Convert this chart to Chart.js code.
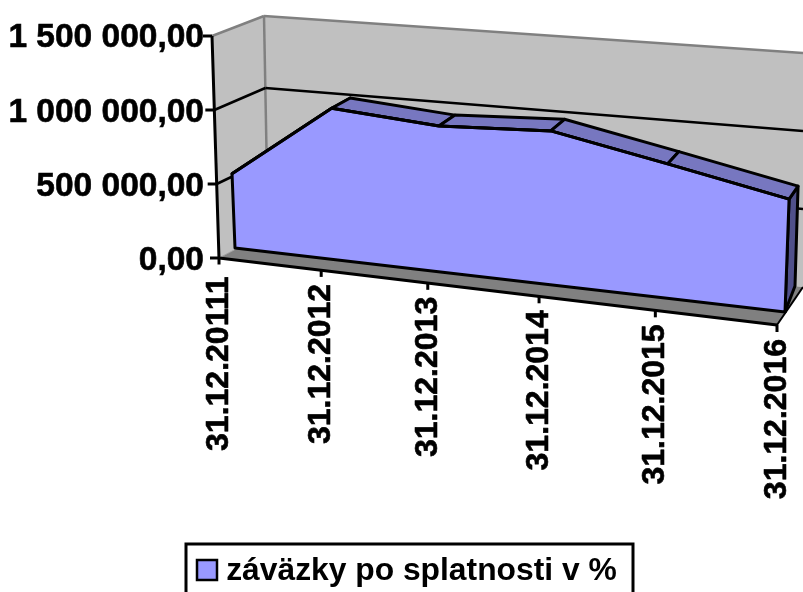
<!DOCTYPE html>
<html>
<head>
<meta charset="utf-8">
<script src="https://cdn.jsdelivr.net/npm/chart.js@4"></script>
<style>
body { margin: 0; background: #fff; }
canvas { display: block; }
</style>
</head>
<body>
<canvas id="chart" width="803" height="592"></canvas>
<script>
// values
const categories = ["31.12.20111", "31.12.2012", "31.12.2013", "31.12.2014", "31.12.2015", "31.12.2016"];
const seriesName = "záväzky po splatnosti v %";
const seriesValues = [505000, 1000000, 945000, 975000, 835000, 690000];
const baseValue = 0;

const fontFamily = '"Liberation Sans", Arial, sans-serif';
const frontColor = "#9999FF";
const topColor = "#7777C0";
const sideColor = "#50508A";
const wallColor = "#C0C0C0";
const floorColor = "#808080";

// front plane of the 3D box on screen: bottom-left, bottom-right, top-right, top-left
const frontQuad = [[235, 248], [785, 312], [794, 62], [226, 23]];

// square -> quad perspective mapping
function makeHomography(q) {
    const [x0, y0] = q[0], [x1, y1] = q[1], [x2, y2] = q[2], [x3, y3] = q[3];
    const dx1 = x1 - x2, dx2 = x3 - x2, sx = x0 - x1 + x2 - x3;
    const dy1 = y1 - y2, dy2 = y3 - y2, sy = y0 - y1 + y2 - y3;
    const den = dx1 * dy2 - dx2 * dy1;
    const g = (sx * dy2 - dx2 * sy) / den;
    const h = (dx1 * sy - sx * dy1) / den;
    return (u, v) => {
        const w = g * u + h * v + 1;
        return [
            ((x1 - x0 + g * x1) * u + (x3 - x0 + h * x3) * v + x0) / w,
            ((y1 - y0 + g * y1) * u + (y3 - y0 + h * y3) * v + y0) / w
        ];
    };
}
const front = makeHomography(frontQuad);

// scale pixels -> screen
function project(chart, px, py) {
    const a = chart.chartArea;
    return front((px - a.left) / (a.right - a.left), (a.bottom - py) / (a.bottom - a.top));
}
function lerp(a, b, t) { return a + (b - a) * t; }
// how far the back edge of the area sits from the front edge
function depth(u) { return [lerp(21, 9, u), lerp(-9.5, -13, u)]; }

function poly(ctx, pts, fill, stroke, width) {
    ctx.beginPath();
    pts.forEach((p, i) => i ? ctx.lineTo(p[0], p[1]) : ctx.moveTo(p[0], p[1]));
    ctx.closePath();
    if (fill) { ctx.fillStyle = fill; ctx.fill(); }
    if (stroke) { ctx.strokeStyle = stroke; ctx.lineWidth = width; ctx.stroke(); }
}
function segment(ctx, a, b, color, width) {
    ctx.beginPath();
    ctx.moveTo(a[0], a[1]);
    ctx.lineTo(b[0], b[1]);
    ctx.strokeStyle = color;
    ctx.lineWidth = width;
    ctx.stroke();
}

const box3d = {
    id: "box3d",
    // push the points of the line through the perspective
    afterDatasetsUpdate(chart) {
        chart.getDatasetMeta(0).data.forEach(pt => {
            const p = project(chart, pt.x, pt.y);
            pt.x = p[0];
            pt.y = p[1];
        });
    },
    beforeDatasetsDraw(chart) {
        const ctx = chart.ctx, y = chart.scales.y, x = chart.scales.x, area = chart.chartArea;
        const leftAxis = t => [lerp(219, 212, t), lerp(258, 36, t)];
        const backLeft = t => [lerp(268, 264, t), lerp(232, 16, t)];
        const backRight = t => [803, lerp(287, 53, t)];

        ctx.save();
        ctx.lineJoin = "round";
        // walls and floor
        poly(ctx, [backLeft(0), backRight(0), backRight(1), backLeft(1)], wallColor);
        poly(ctx, [leftAxis(0), backLeft(0), backLeft(1), leftAxis(1)], wallColor);
        poly(ctx, [leftAxis(0), backLeft(0), backRight(0), [777, 325]], floorColor);
        segment(ctx, leftAxis(1), backLeft(1), floorColor, 2.5);
        segment(ctx, backLeft(1), backRight(1), floorColor, 2.5);
        segment(ctx, backLeft(1), backLeft(0), floorColor, 2.5);
        segment(ctx, backRight(0), [777, 325], "#000", 2);

        // gridlines, from the value scale
        y.ticks.forEach(tick => {
            const t = (area.bottom - y.getPixelForValue(tick.value)) / (area.bottom - area.top);
            if (t > 0 && t < 1) {
                segment(ctx, leftAxis(t), backLeft(t), "#000", 2.5);
                segment(ctx, backLeft(t), backRight(t), "#000", 2.5);
            }
            const l = leftAxis(t);
            segment(ctx, [l[0] - 9, l[1]], l, "#000", 3);
        });
        segment(ctx, leftAxis(0), leftAxis(1), "#000", 3);
        segment(ctx, leftAxis(0), backLeft(0), "#A0A0A0", 1);

        // front axis and its ticks
        segment(ctx, leftAxis(0), [777, 325], "#000", 3);
        x.getLabels().forEach((label, i) => {
            const b = project(chart, x.getPixelForValue(i), y.getPixelForValue(baseValue));
            const u = i / (categories.length - 1);
            const tx = b[0] - lerp(16, 8, u), ty = b[1] - depth(u)[1];
            segment(ctx, [tx, ty], [tx, ty + 7], "#000", 3);
            ctx.save();
            ctx.translate(tx, ty + 7 + (i === 0 ? 12 : 7));
            ctx.rotate(-Math.PI / 2);
            ctx.font = "bold 32px " + fontFamily;
            ctx.fillStyle = "#000";
            ctx.strokeStyle = "#000";
            ctx.lineWidth = 0.6;
            ctx.textAlign = "right";
            ctx.textBaseline = "middle";
            ctx.fillText(label, 0, 0);
            ctx.strokeText(label, 0, 0);
            ctx.restore();
        });

        // faces of the area
        const pts = chart.getDatasetMeta(0).data;
        const tops = pts.map(p => [p.x, p.y]);
        const backs = tops.map((p, i) => {
            const d = depth(i / (tops.length - 1));
            return [p[0] + d[0], p[1] + d[1]];
        });
        const bases = categories.map((c, i) => project(chart, x.getPixelForValue(i), y.getPixelForValue(baseValue)));
        const last = tops.length - 1;
        poly(ctx, [tops[last], backs[last], [795, 286], bases[last]], sideColor, "#000", 3);
        for (let i = 0; i < last; i++) {
            poly(ctx, [tops[i], tops[i + 1], backs[i + 1], backs[i]], topColor, "#000", 3);
        }
        poly(ctx, tops.concat(bases.slice().reverse()), frontColor, "#000", 3);
        ctx.restore();
    },
    afterDraw(chart) {
        const ctx = chart.ctx;
        ctx.save();
        // frame and swatch of the legend
        ctx.strokeStyle = "#000";
        ctx.lineWidth = 3;
        ctx.strokeRect(186, 544, 447, 60);
        ctx.fillStyle = frontColor;
        ctx.fillRect(197, 560, 20, 20);
        ctx.lineWidth = 2.5;
        ctx.strokeRect(197, 560, 20, 20);
        ctx.restore();
    }
};

new Chart(document.getElementById("chart"), {
    type: "line",
    plugins: [box3d],
    data: {
        labels: categories,
        datasets: [{
            label: seriesName,
            data: seriesValues,
            borderColor: "#000",
            backgroundColor: frontColor,
            borderWidth: 3,
            pointRadius: 0,
            tension: 0,
            fill: false,
            clip: false
        }]
    },
    options: {
        responsive: false,
        animation: false,
        layout: { padding: { right: 18, top: 38, bottom: -5 } },
        plugins: {
            tooltip: { enabled: false },
            legend: {
                position: "bottom",
                labels: {
                    color: "#000",
                    font: { family: fontFamily, size: 31.8, weight: "bold" },
                    boxWidth: 42,
                    boxHeight: 21,
                    padding: 0,
                    generateLabels: chart => [{
                        text: seriesName,
                        fillStyle: "rgba(0,0,0,0)",
                        strokeStyle: "rgba(0,0,0,0)",
                        lineWidth: 0,
                        datasetIndex: 0
                    }]
                }
            }
        },
        scales: {
            x: {
                grid: { display: false },
                border: { display: false },
                ticks: { display: false },
                afterFit(axis) { axis.height = 294; }
            },
            y: {
                min: 0,
                max: 1500000,
                grid: { display: false, drawTicks: false },
                border: { display: false },
                ticks: {
                    stepSize: 500000,
                    padding: 8,
                    color: "#000",
                    textStrokeColor: "#000",
                    textStrokeWidth: 0.6,
                    font: { family: fontFamily, size: 33.5, weight: "bold" },
                    callback: v => {
                        const s = v.toFixed(2).replace(".", ",");
                        return s.replace(/\B(?=(\d{3})+(?!\d))/g, " ").replace(/,(\d) (\d)/, ",$1$2");
                    }
                },
                afterFit(axis) { axis.width = 212; }
            }
        }
    }
});
</script>
</body>
</html>
